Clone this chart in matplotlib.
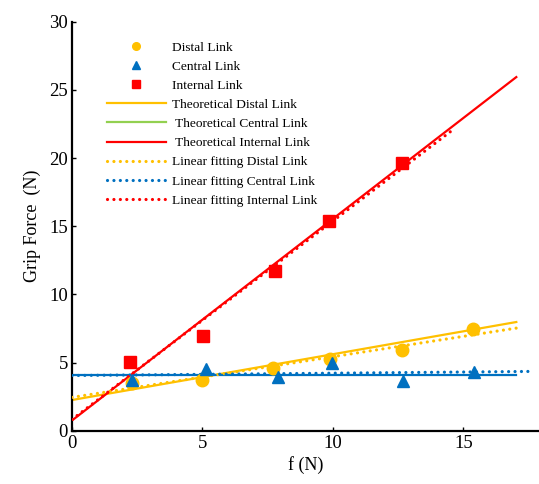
"""
Grip force vs f for the three links
"""

import numpy as np
import matplotlib
matplotlib.use("Agg")
import matplotlib.pyplot as plt
from matplotlib.lines import Line2D

# measured points
distal_f = [2.29, 4.97, 7.71, 9.89, 12.66, 15.38]
distal_force = [3.5, 3.72, 4.6, 5.25, 5.93, 7.45]

central_f = [2.31, 5.13, 7.9, 9.97, 12.7, 15.41]
central_force = [3.72, 4.5, 3.97, 5.0, 3.68, 4.33]

internal_f = [2.22, 5.03, 7.8, 9.85, 12.66]
internal_force = [5.07, 6.96, 11.74, 15.37, 19.65]

# theoretical lines: intercept, slope, f range
theory_intercept = [2.25, 4.1, 0.75]
theory_slope = [0.336, 0.0, 1.479]
theory_f_end = [17.03, 17.03, 17.03]

# linear fitting lines, f range
fit_f_end = [17.2, 17.6, 14.6]

colors = ["#FFC000", "#0070C0", "#FF0000"]
green = "#92D050"
dots = (0, (0.01, 2.0))


def main():
    plt.rcParams["font.family"] = ["Liberation Serif", "DejaVu Serif"]

    fig = plt.figure(figsize=(5.39, 4.84), dpi=100)
    ax = fig.add_axes([72 / 539, 1 - 430.7 / 484, 467 / 539, 409 / 484])

    xs = [distal_f, central_f, internal_f]
    ys = [distal_force, central_force, internal_force]
    markers = ["o", "^", "s"]

    # theoretical lines
    for i in range(3):
        f = np.array([0.0, theory_f_end[i]])
        ax.plot(f, theory_intercept[i] + theory_slope[i] * f,
                color=colors[i], lw=1.6, zorder=2)

    # linear fitting
    for i in range(3):
        b, a = np.polyfit(xs[i], ys[i], 1)
        f = np.array([0.0, fit_f_end[i]])
        ax.plot(f, a + b * f, color=colors[i], lw=2.3,
                linestyle=dots, dash_capstyle="round", zorder=3)

    # measured points
    for i in range(3):
        ax.plot(xs[i], ys[i], linestyle="none", marker=markers[i],
                color=colors[i], ms=9, zorder=4)

    ax.set_xlim(0, 17.9)
    ax.set_ylim(0, 30)
    ax.set_xticks([0, 5, 10, 15])
    ax.set_yticks([0, 5, 10, 15, 20, 25, 30])
    ax.tick_params(direction="in", length=3, width=1, labelsize=13.5, pad=3)
    for side in ["top", "right"]:
        ax.spines[side].set_visible(False)
    for side in ["left", "bottom"]:
        ax.spines[side].set_linewidth(1.6)

    ax.set_xlabel("f (N)", fontsize=13, labelpad=3)
    ax.set_ylabel("Grip Force  (N)", fontsize=13, labelpad=6)

    handles = [
        Line2D([], [], linestyle="none", marker="o", color=colors[0], ms=5.5),
        Line2D([], [], linestyle="none", marker="^", color=colors[1], ms=5.5),
        Line2D([], [], linestyle="none", marker="s", color=colors[2], ms=5.5),
        Line2D([], [], color=colors[0], lw=1.6),
        Line2D([], [], color=green, lw=1.6),
        Line2D([], [], color=colors[2], lw=1.6),
        Line2D([], [], color=colors[0], lw=2.3, linestyle=dots, dash_capstyle="round"),
        Line2D([], [], color=colors[1], lw=2.3, linestyle=dots, dash_capstyle="round"),
        Line2D([], [], color=colors[2], lw=2.3, linestyle=dots, dash_capstyle="round"),
    ]
    labels = ["Distal Link", "Central Link", "Internal Link",
              "Theoretical Distal Link", " Theoretical Central Link",
              " Theoretical Internal Link", "Linear fitting Distal Link",
              "Linear fitting Central Link", "Linear fitting Internal Link"]
    ax.legend(handles, labels, loc="upper left", bbox_to_anchor=(0.055, 0.975),
              frameon=False, fontsize=9.6, handlelength=4.4, handletextpad=0.45,
              labelspacing=0.51, borderpad=0.2)

    fig.savefig("out.png", dpi=100)
    return 0


if __name__ == '__main__':
    main()
